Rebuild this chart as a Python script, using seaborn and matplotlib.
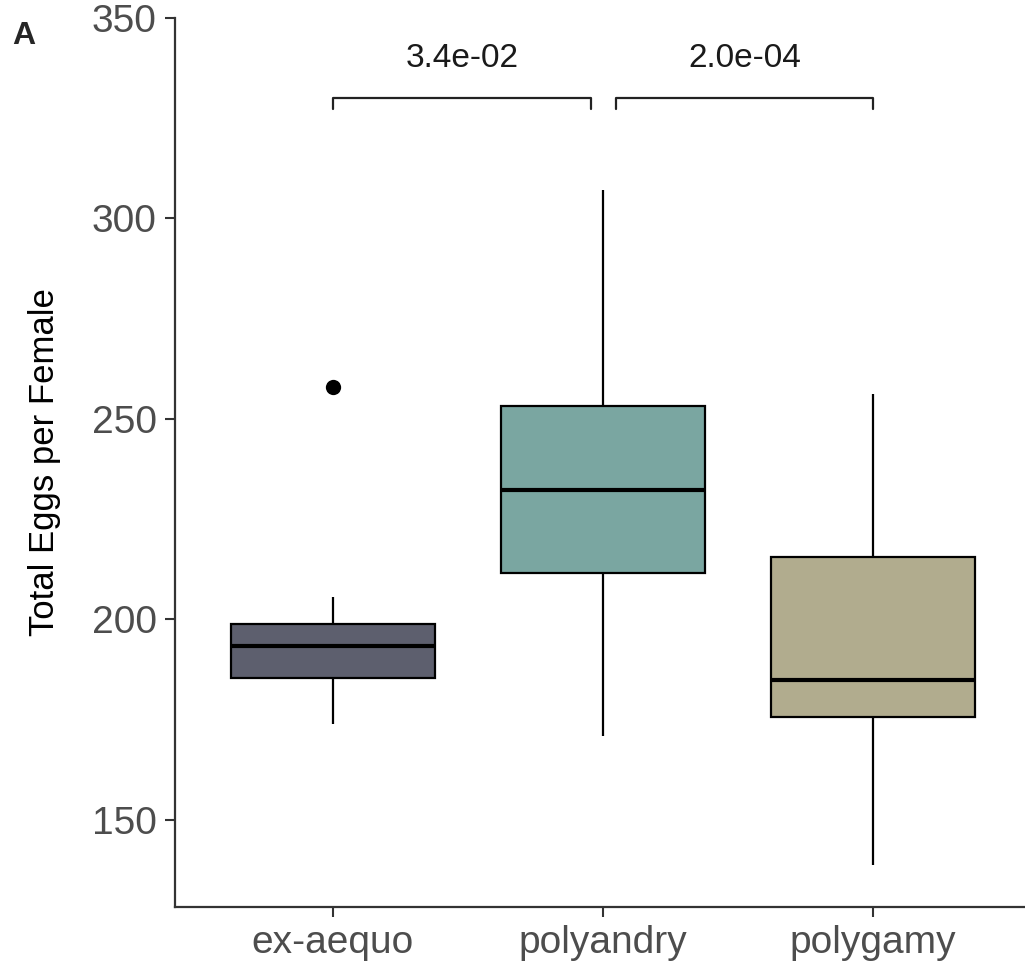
import pandas as pd
import matplotlib
matplotlib.use("Agg")
import matplotlib.pyplot as plt
import seaborn as sns

# five-number summaries (lower whisker, Q1, median, Q3, upper whisker)
groups = ["ex-aequo", "polyandry", "polygamy"]
ex_aequo = [174.0, 185.3, 193.5, 198.8, 205.5]
polyandry = [171.0, 211.5, 232.3, 253.2, 307.2]
polygamy = [138.7, 175.6, 185.0, 215.5, 256.2]
outlier_group = ["ex-aequo"]
outlier_value = [257.9]
colors = ["#5d5f6e", "#7aa6a1", "#b1ac8e"]

comparisons = [("ex-aequo", "polyandry"), ("polyandry", "polygamy")]
p_labels = ["3.4e-02", "2.0e-04"]

sns.set_style("ticks")
plt.rcParams["font.family"] = ["Liberation Sans", "DejaVu Sans"]

df = pd.DataFrame({
    "Mating": [g for g, v in zip(groups, [ex_aequo, polyandry, polygamy]) for _ in v],
    "Eggs": ex_aequo + polyandry + polygamy,
})
out_df = pd.DataFrame({"Mating": outlier_group, "Eggs": outlier_value})

fig = plt.figure(figsize=(10.25, 9.61), dpi=100)
ax = fig.add_axes([0.1707, 0.0562, 0.8293, 0.9251])

sns.boxplot(data=df, x="Mating", y="Eggs", hue="Mating", order=groups,
            palette=colors, saturation=1, width=0.755, whis=1.5,
            showfliers=False, showcaps=False,
            linecolor="black", linewidth=1.6, legend=False, ax=ax,
            medianprops={"linewidth": 3.0, "color": "black"})
sns.stripplot(data=out_df, x="Mating", y="Eggs", order=groups, jitter=False,
              color="black", size=11, ax=ax)

# significance brackets
y_br, tip = 330, 2.6
for (a, b), lab in zip(comparisons, p_labels):
    xa, xb = groups.index(a), groups.index(b)
    if xa == 0:
        x0, x1 = xa, xb - 0.045
    else:
        x0, x1 = xa + 0.05, xb
    ax.plot([x0, x0, x1, x1], [y_br - tip, y_br, y_br, y_br - tip],
            color="#222222", linewidth=1.6, clip_on=False)
    ax.text((x0 + x1) / 2, 336, lab, ha="center", va="bottom",
            fontsize=24, color="#1a1a1a")

ax.set_xlim(-0.585, 2.563)
ax.set_ylim(128.3, 350)
ax.set_yticks([150, 200, 250, 300, 350])
ax.set_xlabel("")
ax.set_ylabel("Total Eggs per Female", fontsize=25, color="black", labelpad=22)
ax.tick_params(axis="both", labelsize=28, labelcolor="#4d4d4d", color="#333333",
               length=7, width=1.5, pad=6)
for side in ["top", "right"]:
    ax.spines[side].set_visible(False)
for side in ["left", "bottom"]:
    ax.spines[side].set_linewidth(1.6)
    ax.spines[side].set_color("#333333")

fig.text(0.012, 0.963, "A", fontsize=23, fontweight="bold", va="center")

fig.savefig("out.png", dpi=100)
